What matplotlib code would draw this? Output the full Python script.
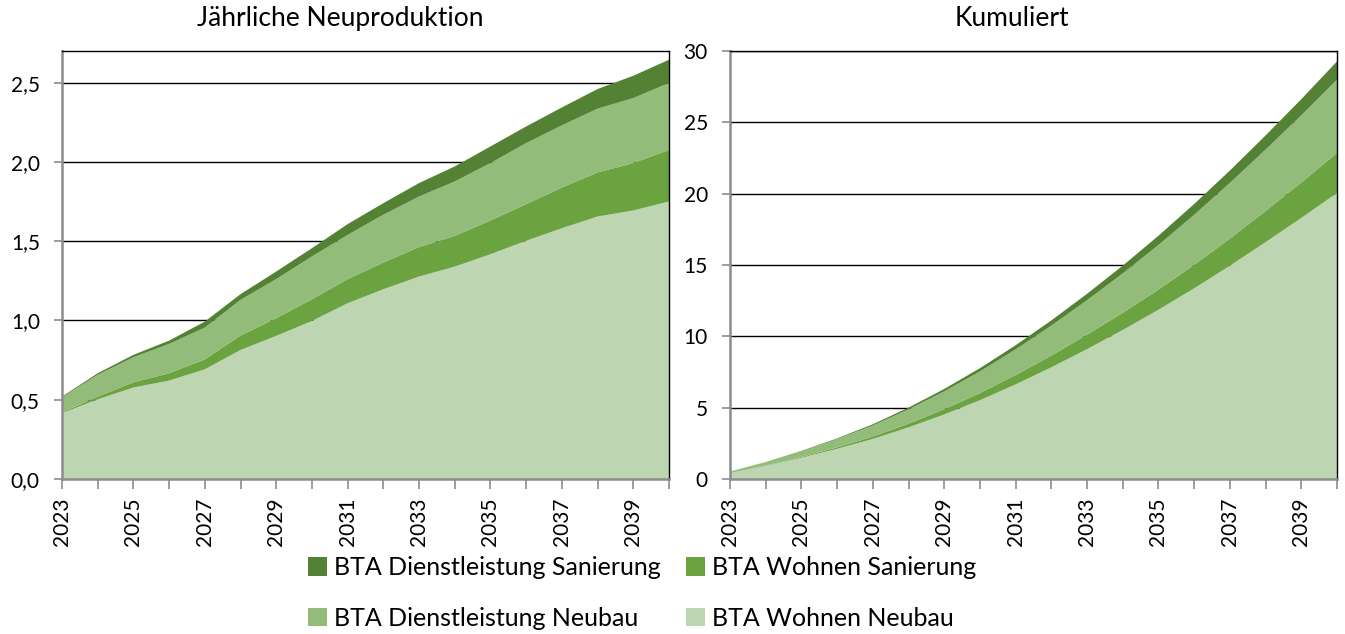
import matplotlib
matplotlib.use("Agg")
import matplotlib.pyplot as plt
import numpy as np
from matplotlib.patches import Patch
from matplotlib.ticker import FuncFormatter

plt.rcParams['font.family'] = ['Lato', 'DejaVu Sans']

years = list(range(2023, 2041))

# annual new production per category (stack order bottom -> top)
wohnen_neubau = [0.415, 0.503, 0.577, 0.621, 0.692, 0.814, 0.903, 0.997, 1.109,
                 1.197, 1.277, 1.340, 1.418, 1.503, 1.582, 1.656, 1.694, 1.751]
wohnen_sanierung = [0.005, 0.017, 0.033, 0.046, 0.063, 0.091, 0.111, 0.137, 0.152,
                    0.169, 0.186, 0.194, 0.213, 0.231, 0.257, 0.278, 0.299, 0.326]
dl_neubau = [0.095, 0.137, 0.158, 0.185, 0.200, 0.225, 0.247, 0.270, 0.279,
             0.301, 0.319, 0.343, 0.362, 0.385, 0.392, 0.402, 0.410, 0.421]
dl_sanierung = [0.005, 0.010, 0.015, 0.021, 0.038, 0.036, 0.048, 0.052, 0.068,
                0.073, 0.085, 0.095, 0.105, 0.105, 0.113, 0.124, 0.141, 0.147]

labels = ['BTA Wohnen Neubau', 'BTA Wohnen Sanierung',
          'BTA Dienstleistung Neubau', 'BTA Dienstleistung Sanierung']
colors = ['#bdd6b1', '#6aa33f', '#93bc7a', '#548235']

annual = [wohnen_neubau, wohnen_sanierung, dl_neubau, dl_sanierung]
cumulative = [np.cumsum(s) for s in annual]

fig = plt.figure(figsize=(13.45, 6.34), dpi=100)
ax1 = fig.add_axes([62 / 1345, 1 - 479 / 634, 607 / 1345, 428 / 634])
ax2 = fig.add_axes([730 / 1345, 1 - 479 / 634, 607 / 1345, 428 / 634])


def style(ax, ymax, step, fmt):
    ax.set_xlim(2023, 2040)
    ax.set_ylim(0, ymax)
    ax.set_xticks(years)
    ax.set_xticklabels([str(y) if (y - 2023) % 2 == 0 else '' for y in years],
                       rotation=90, fontsize=15)
    ticks = np.arange(0, ymax + 1e-9, step)
    ax.set_yticks(ticks)
    ax.yaxis.set_major_formatter(FuncFormatter(fmt))
    ax.tick_params(axis='y', labelsize=15, length=6, color='#8c8c8c', width=1.2, pad=10)
    ax.tick_params(axis='x', length=7, color='#8c8c8c', width=1.2, pad=6)
    for t in ticks[1:]:
        ax.axhline(t, color='black', lw=1.0, zorder=1)
    for side in ['left', 'bottom']:
        ax.spines[side].set_color('#8c8c8c')
        ax.spines[side].set_linewidth(1.8)
    for side in ['top', 'right']:
        ax.spines[side].set_color('black')
        ax.spines[side].set_linewidth(1.0)


ax1.stackplot(years, *annual, colors=colors, linewidth=0, zorder=2)
style(ax1, 2.7, 0.5, lambda v, p: f'{v:.1f}'.replace('.', ','))
ax1.set_title('Jährliche Neuproduktion', fontsize=19, pad=18, x=0.458)

ax2.stackplot(years, *cumulative, colors=colors, linewidth=0, zorder=2)
style(ax2, 30, 5, lambda v, p: f'{v:.0f}')
ax2.set_title('Kumuliert', fontsize=19, pad=18, x=0.465)

order = [3, 2, 1, 0]
handles = [Patch(facecolor=colors[i], edgecolor='none') for i in order]
fig.legend(handles, [labels[i] for i in order], ncol=2, loc='center',
           bbox_to_anchor=(642 / 1345, 1 - 593 / 634), frameon=False,
           fontsize=18, handlelength=0.75, handleheight=0.75, handletextpad=0.3,
           columnspacing=1.0, labelspacing=1.1)

fig.savefig('out.png', dpi=100)
